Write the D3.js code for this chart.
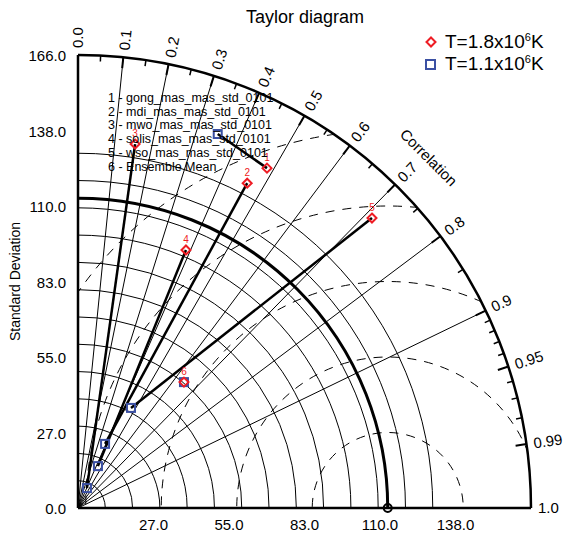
<!DOCTYPE html>
<html>
<head>
<meta charset="utf-8">
<script src="https://cdn.jsdelivr.net/npm/d3@7"></script>
<style>
  html, body { margin: 0; padding: 0; background: #fff; }
  svg { display: block; font-family: "Liberation Sans", Arial, Helvetica, sans-serif; }
</style>
</head>
<body>
<svg id="chart" width="563" height="537"></svg>
<script>
// ---------------- data ----------------
const modelNames = [
  "gong_mas_mas_std_0101",
  "mdi_mas_mas_std_0101",
  "mwo_mas_mas_std_0101",
  "solis_mas_mas_std_0101",
  "wso_mas_mas_std_0101",
  "Ensemble Mean"
];
// T = 1.8x10^6 K (red diamonds)
const stdHot  = [142.5, 134.2, 135.0, 102.5, 151.3, 60.3];
const corrHot = [0.486, 0.462, 0.155, 0.386, 0.712, 0.644];
// T = 1.1x10^6 K (blue squares)
const stdCool  = [146.3, 25.5, 8.0, 17.0, 41.5, 60.3];
const corrCool = [0.350, 0.389, 0.410, 0.430, 0.468, 0.644];
// reference (observation) standard deviation
const refStd = 113.5;

const stdMax = 166.0;
const stdTickValues = [0, 27.67, 55.33, 83.0, 110.67, 138.33, 166.0];
const stdTickLabels = ["0.0", "27.0", "55.0", "83.0", "110.0", "138.0", "166.0"];
const stdGridValues = [10, 20, 30, 40, 50, 60, 70, 80, 90, 100, 110, 120, 130];
const rmsCircleValues = [27.67, 55.33, 83.0, 110.67, 138.33];
const corrLineValues = [0.1, 0.2, 0.3, 0.4, 0.5, 0.6, 0.7, 0.8, 0.9];
const corrLabelValues = [0.0, 0.1, 0.2, 0.3, 0.4, 0.5, 0.6, 0.7, 0.8, 0.9, 0.95, 0.99, 1.0];
const corrLabelTexts = ["0.0", "0.1", "0.2", "0.3", "0.4", "0.5", "0.6", "0.7", "0.8", "0.9", "0.95", "0.99", "1.0"];
const corrMinorTicks = [0.05, 0.15, 0.25, 0.35, 0.45, 0.55, 0.65, 0.75, 0.85,
                        0.91, 0.92, 0.93, 0.94, 0.96, 0.97, 0.98];
const corrMajorTicks = [0.1, 0.2, 0.3, 0.4, 0.5, 0.6, 0.7, 0.8, 0.9, 0.95, 0.99];
const legendLabels = ["T=1.8x10", "T=1.1x10"];

// ---------------- layout ----------------
const RED = "#ee1c24";
const BLUE = "#3b50a3";
const ox = 78, oy = 508, R = 453;

const svg = d3.select("#chart");
const r = d3.scaleLinear().domain([0, stdMax]).range([0, R]);
const g = svg.append("g").attr("transform", `translate(${ox},${oy})`);

const pos = (s, c) => {
  const th = Math.acos(c);
  return [r(s) * Math.cos(th), -r(s) * Math.sin(th)];
};
const quarterArc = rad => {
  const p = d3.path();
  p.moveTo(0, -rad);
  p.arc(0, 0, rad, -Math.PI / 2, 0);
  return p.toString();
};

// clip to quarter circle
svg.append("defs").append("clipPath").attr("id", "quad")
  .append("path")
  .attr("d", () => { const p = d3.path(); p.moveTo(0, 0); p.lineTo(0, -R); p.arc(0, 0, R, -Math.PI / 2, 0); p.closePath(); return p.toString(); });

// std grid arcs
g.selectAll(".sgrid").data(stdGridValues).join("path")
  .attr("d", d => quarterArc(r(d)))
  .attr("fill", "none").attr("stroke", "#000").attr("stroke-width", 1);

// RMS dashed circles
g.append("g").attr("clip-path", "url(#quad)")
  .selectAll("circle").data(rmsCircleValues).join("circle")
  .attr("cx", r(refStd)).attr("cy", 0).attr("r", d => r(d))
  .attr("fill", "none").attr("stroke", "#000").attr("stroke-width", 1)
  .attr("stroke-dasharray", "9,8");

// correlation radial lines
g.selectAll(".cline").data(corrLineValues).join("line")
  .attr("x1", 0).attr("y1", 0)
  .attr("x2", d => pos(stdMax, d)[0]).attr("y2", d => pos(stdMax, d)[1])
  .attr("stroke", "#000").attr("stroke-width", 1);

// reference std arc (thick)
g.append("path").attr("d", quarterArc(r(refStd)))
  .attr("fill", "none").attr("stroke", "#000").attr("stroke-width", 3);

// outer arc & axes
g.append("path").attr("d", quarterArc(R))
  .attr("fill", "none").attr("stroke", "#000").attr("stroke-width", 2.5);
g.append("line").attr("x1", 0).attr("y1", 0).attr("x2", 0).attr("y2", -R)
  .attr("stroke", "#000").attr("stroke-width", 2.5);
g.append("line").attr("x1", 0).attr("y1", 0).attr("x2", R).attr("y2", 0)
  .attr("stroke", "#000").attr("stroke-width", 2.5);

// ticks on outer arc
g.selectAll(".mtick").data(corrMinorTicks).join("line")
  .attr("x1", d => pos(stdMax, d)[0]).attr("y1", d => pos(stdMax, d)[1])
  .attr("x2", d => pos(stdMax, d)[0] * (R - 6) / R).attr("y2", d => pos(stdMax, d)[1] * (R - 6) / R)
  .attr("stroke", "#000").attr("stroke-width", 1.5);
g.selectAll(".Mtick").data(corrMajorTicks).join("line")
  .attr("x1", d => pos(stdMax, d)[0]).attr("y1", d => pos(stdMax, d)[1])
  .attr("x2", d => pos(stdMax, d)[0] * (R - 11) / R).attr("y2", d => pos(stdMax, d)[1] * (R - 11) / R)
  .attr("stroke", "#000").attr("stroke-width", 2);

// correlation labels
g.selectAll(".clab").data(corrLabelValues).join("text")
  .attr("transform", (d, i) => {
    const th = Math.acos(d);
    const rr = R + 7;
    return `translate(${rr * Math.cos(th)},${-rr * Math.sin(th)}) rotate(${-th * 180 / Math.PI})`;
  })
  .attr("text-anchor", "start").attr("dy", "0.36em")
  .attr("font-size", 15).attr("fill", "#000")
  .text((d, i) => corrLabelTexts[i]);

g.append("text")
  .attr("transform", `translate(${496 * Math.cos(Math.PI / 4)},${-496 * Math.sin(Math.PI / 4)}) rotate(45)`)
  .attr("text-anchor", "middle").attr("dy", "0.36em")
  .attr("font-size", 15).text("Correlation");

// std labels (left axis and bottom axis)
g.selectAll(".ylab").data(stdTickValues).join("text")
  .attr("x", -12).attr("y", d => -r(d) + 6)
  .attr("text-anchor", "end").attr("font-size", 15)
  .text((d, i) => stdTickLabels[i]);
g.selectAll(".xlab").data(stdTickValues.slice(1, 6)).join("text")
  .attr("x", d => r(d)).attr("y", 22)
  .attr("text-anchor", "middle").attr("font-size", 15)
  .text((d, i) => stdTickLabels[i + 1]);

svg.append("text")
  .attr("transform", `translate(20,${oy - R / 2}) rotate(-90)`)
  .attr("text-anchor", "middle").attr("font-size", 14)
  .text("Standard Deviation");

// reference point
g.append("circle").attr("cx", r(refStd)).attr("cy", 0).attr("r", 4)
  .attr("fill", "none").attr("stroke", "#000").attr("stroke-width", 2);

// connecting lines
g.selectAll(".conn").data(modelNames).join("line")
  .attr("x1", (d, i) => pos(stdHot[i], corrHot[i])[0])
  .attr("y1", (d, i) => pos(stdHot[i], corrHot[i])[1])
  .attr("x2", (d, i) => pos(stdCool[i], corrCool[i])[0])
  .attr("y2", (d, i) => pos(stdCool[i], corrCool[i])[1])
  .attr("stroke", "#000").attr("stroke-width", 2.5);

// blue squares
g.selectAll(".sq").data(modelNames).join("rect")
  .attr("x", (d, i) => pos(stdCool[i], corrCool[i])[0] - 4)
  .attr("y", (d, i) => pos(stdCool[i], corrCool[i])[1] - 4)
  .attr("width", 8).attr("height", 8)
  .attr("fill", "none").attr("stroke", BLUE).attr("stroke-width", 2);

// red diamonds
const diamond = "M0,-4.5L4.5,0L0,4.5L-4.5,0Z";
g.selectAll(".dm").data(modelNames).join("path")
  .attr("transform", (d, i) => `translate(${pos(stdHot[i], corrHot[i])[0]},${pos(stdHot[i], corrHot[i])[1]})`)
  .attr("d", diamond)
  .attr("fill", "none").attr("stroke", RED).attr("stroke-width", 2);
g.selectAll(".num").data(modelNames).join("text")
  .attr("x", (d, i) => pos(stdHot[i], corrHot[i])[0])
  .attr("y", (d, i) => pos(stdHot[i], corrHot[i])[1] - 7)
  .attr("text-anchor", "middle").attr("font-size", 10).attr("fill", RED)
  .text((d, i) => i + 1);

// model list
svg.append("g").selectAll("text").data(modelNames).join("text")
  .attr("x", 108).attr("y", (d, i) => 102 + i * 13.7)
  .attr("font-size", 12.5).attr("fill", "#000")
  .text((d, i) => `${i + 1} - ${d}`);

// title
svg.append("text").attr("x", 305).attr("y", 23)
  .attr("text-anchor", "middle").attr("font-size", 18).text("Taylor diagram");

// top-right legend
const lg = svg.append("g");
lg.append("path").attr("d", diamond).attr("transform", "translate(431,42)")
  .attr("fill", "none").attr("stroke", RED).attr("stroke-width", 2);
lg.append("rect").attr("x", 426).attr("y", 60).attr("width", 9).attr("height", 9)
  .attr("fill", "none").attr("stroke", BLUE).attr("stroke-width", 2);
legendLabels.forEach((lab, i) => {
  const t = lg.append("text").attr("x", 445).attr("y", 48 + i * 22).attr("font-size", 19);
  t.append("tspan").text(lab);
  t.append("tspan").attr("dy", -7).attr("font-size", 11).text("6");
  t.append("tspan").attr("dy", 7).text("K");
});
</script>
</body>
</html>
